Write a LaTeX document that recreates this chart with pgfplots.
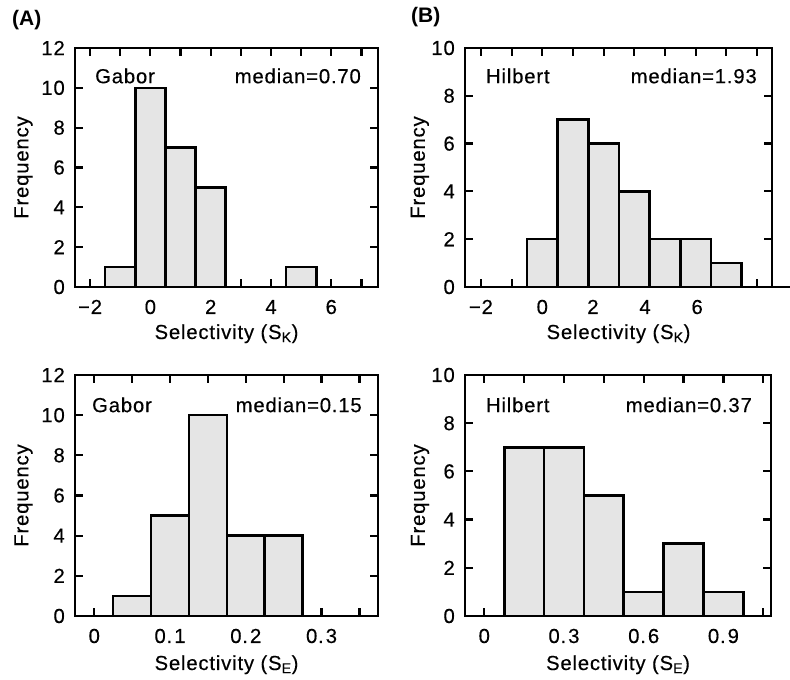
\documentclass[border=0pt]{standalone}
\usepackage{fontspec}
\setmainfont{Liberation Sans}[FakeBold=0.35, LetterSpace=4, BoldFeatures={FakeBold=0, LetterSpace=0}]
\usepackage{pgfplots}
\pgfplotsset{compat=1.18}
\newcommand\F{\fontsize{20.3}{23}\selectfont}
\definecolor{barfill}{gray}{0.9}
\tikzset{txt/.style={inner sep=0pt, font=\F}}
\pgfplotsset{
  panel/.style={
    scale only axis,
    anchor=south west,
    axis line style={line width=2.5pt},
    tick align=inside,
    major tick length=8pt, minor tick length=8pt,
    every tick/.style={black, line width=2.2pt},
    every minor tick/.style={black, line width=2.2pt},
    ymin=0,
    tick label style={font=\F, inner sep=0pt},
    xticklabel style={anchor=base, yshift=-27pt},
    yticklabel style={anchor=east, xshift=-10pt},
    label style={font=\F},
    ylabel={Frequency},
    /pgf/number format/assume math mode=true,
    clip=false,
  },
  hist/.style={ybar interval, fill=barfill, draw=black, line width=2.6pt},
}
\begin{document}
\begin{tikzpicture}
\useasboundingbox (0,0) rectangle (790pt,680pt);
\node[anchor=west, inner sep=0pt, font=\bfseries\fontsize{21}{24}\selectfont] at (12pt,660pt) {(A)};
\node[anchor=west, inner sep=0pt, font=\bfseries\fontsize{21}{24}\selectfont] at (411pt,662.5pt) {(B)};

% Top A
\begin{axis}[panel, at={(75pt,393pt)}, width=303pt, height=239pt,
  xmin=-2.5, xmax=7.55, ymax=12, ytick={0,2,...,12},
  xtick={-2,0,2,4,6}, xticklabels={−2,0,2,4,6}, minor xtick={-1,1,3,5,7},
  xlabel={Selectivity (S\textsubscript{K})},
  xlabel style={at={(axis description cs:0.5,0)}, anchor=base, yshift=-52pt},
  ylabel style={at={(axis description cs:-0.17,0.5)}, anchor=center}]
\addplot[hist] coordinates {(-1.5,1) (-0.5,10) (0.5,7) (1.5,5) (2.5,0)};
\addplot[hist] coordinates {(4.5,1) (5.5,0)};
\node[txt, anchor=west] at (rel axis cs:0.066,0.883) {Gabor};
\node[txt, anchor=east] at (rel axis cs:0.944,0.883) {median=0.70};
\end{axis}

% Top B
\begin{axis}[panel, at={(465pt,393pt)}, width=307pt, height=239pt,
  xmin=-2.52, xmax=7.49, ymax=10, ytick={0,2,...,10},
  xtick={-2,0,1.65,3.35,5.05}, xticklabels={−2,0,2,4,6},
  major x tick style={draw=none},
  minor xtick={-2,-1,0,1,2,3,4,5,6,7},
  xlabel={Selectivity (S\textsubscript{K})},
  xlabel style={at={(axis description cs:0.5,0)}, anchor=base, yshift=-52pt},
  ylabel style={at={(axis description cs:-0.147,0.5)}, anchor=center}]
\addplot[hist] coordinates {(-0.5,2) (0.5,7) (1.5,6) (2.5,4) (3.5,2) (4.5,2) (5.5,1) (6.5,0)};
\draw[line width=1.5pt] (rel axis cs:1,0) -- ++(18pt,0pt);
\node[txt, anchor=west] at (rel axis cs:0.068,0.883) {Hilbert};
\node[txt, anchor=east] at (rel axis cs:0.951,0.883) {median=1.93};
\end{axis}

% Bottom A
\begin{axis}[panel, at={(75pt,64pt)}, width=303pt, height=241pt,
  xmin=-0.0254, xmax=0.3745, ymax=12, ytick={0,2,...,12},
  xtick={0,0.1,0.2,0.3}, xticklabels={0,0.\kern2pt1,0.\kern2pt2,0.\kern2pt3}, minor xtick={0.05,0.15,0.25,0.35},
  xlabel={Selectivity (S\textsubscript{E})},
  xlabel style={at={(axis description cs:0.5,0)}, anchor=base, yshift=-54pt},
  ylabel style={at={(axis description cs:-0.17,0.5)}, anchor=center}]
\addplot[hist] coordinates {(0.025,1) (0.075,5) (0.125,10) (0.175,4) (0.225,4) (0.275,0)};
\node[txt, anchor=west] at (rel axis cs:0.056,0.876) {Gabor};
\node[txt, anchor=east] at (rel axis cs:0.947,0.876) {median=0.15};
\end{axis}

% Bottom B
\begin{axis}[panel, at={(465pt,64pt)}, width=306pt, height=241pt,
  xmin=-0.0725, xmax=1.079, ymax=10, ytick={0,2,...,10},
  xtick={0,0.3,0.6,0.9}, xticklabels={0,0.\kern2pt3,0.\kern2pt6,0.\kern2pt9}, minor xtick={0.15,0.45,0.75,1.05},
  xlabel={Selectivity (S\textsubscript{E})},
  xlabel style={at={(axis description cs:0.5,0)}, anchor=base, yshift=-54pt},
  ylabel style={at={(axis description cs:-0.147,0.5)}, anchor=center}]
\addplot[hist] coordinates {(0.075,7) (0.225,7) (0.375,5) (0.525,1) (0.675,3) (0.825,1) (0.975,0)};
\node[txt, anchor=west] at (rel axis cs:0.068,0.876) {Hilbert};
\node[txt, anchor=east] at (rel axis cs:0.938,0.876) {median=0.37};
\end{axis}
\end{tikzpicture}
\end{document}
